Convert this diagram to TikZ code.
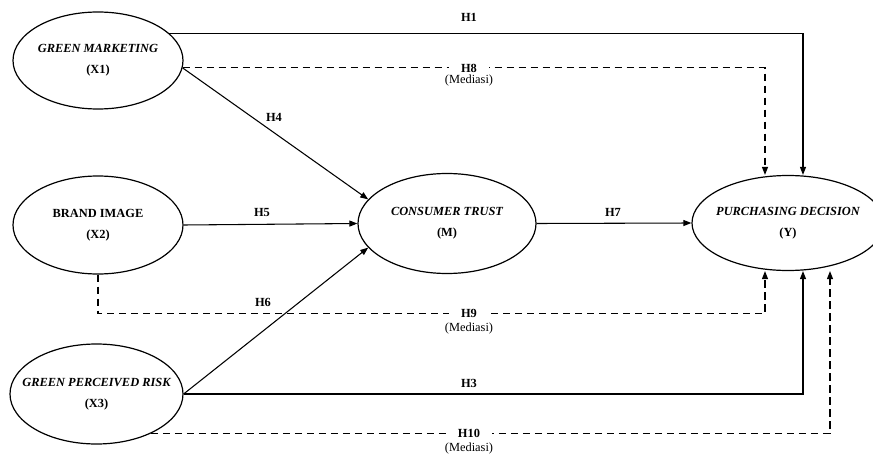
\documentclass[tikz,border=0pt]{standalone}
\usepackage{fontspec}
\setmainfont{Liberation Serif}
\usetikzlibrary{shapes.geometric,arrows.meta,calc}
\begin{document}
\begin{tikzpicture}[x=0.75pt,y=-0.75pt,
  var/.style={ellipse,draw,line width=0.9pt,inner sep=0pt},
  vtxt/.style={align=center,inner sep=0pt,font=\fontsize{9.3}{11}\selectfont\bfseries},
  arr/.style={line width=0.8pt,-{Triangle[length=6pt,width=4.5pt]}},
  dsh/.style={arr,dash pattern=on 5.5pt off 3.5pt},
  lab/.style={font=\fontsize{9.3}{11}\selectfont\bfseries,inner sep=1pt},
  labw/.style={lab,fill=white,inner xsep=9pt,inner ysep=2pt},
  med/.style={font=\fontsize{9.3}{11}\selectfont,inner sep=1pt}]
\useasboundingbox (0,0) rectangle (873,456);
\clip (0,0) rectangle (873,456);
\fill[white] (0,0) rectangle (873,456);

\node[var,minimum width=127.5pt,minimum height=72.75pt] (X1) at (98,60.5) {};
\node[var,minimum width=127.5pt,minimum height=73.5pt] (X2) at (98,225) {};
\node[var,minimum width=129.75pt,minimum height=75pt] (X3) at (96.5,394) {};
\node[var,minimum width=133.5pt,minimum height=75pt] (M) at (447,223.5) {};
\node[var,minimum width=144pt,minimum height=71.25pt] (Y) at (788,223) {};

\node[vtxt] (t1) at (X1) {{\itshape GREEN MARKETING}\\[4.5pt](X1)};
\node[vtxt] (t2) at (X2) {BRAND IMAGE\\[4.5pt](X2)};
\node[vtxt] (t3) at (X3) {{\itshape GREEN PERCEIVED RISK}\\[4.5pt](X3)};
\node[vtxt] (tm) at (M) {{\itshape CONSUMER TRUST}\\[4.5pt](M)};
\node[vtxt] (ty) at (Y) {{\itshape PURCHASING DECISION}\\[4.5pt](Y)};

% direct effects
\draw[arr] (X1.21) -| ($(Y.north)+(15,0)$);
\draw[arr] (X1.-5) -- (M.163);
\draw[arr] (X2.east) -- (M.west);
\draw[arr] (X3.east) -- (M.197);
\draw[arr] (M.east) -- (Y.west);
\draw[arr] (X3.east) -| ($(Y.south)+(15,0)$);

% mediation paths
\draw[dsh] (X1.-5) -| ($(Y.north)+(-23,0)$);
\draw[dsh] (X2.south) -- ++(0,39) -| ($(Y.south)+(-23,0)$);
\draw[dsh] (X3.-36) -| ($(Y.south)+(42,0)$);

% labels
\node[lab] (h1) at (469,17) {H1};
\node[lab] (h4) at (274,117) {H4};
\node[lab] (h5) at (262,212) {H5};
\node[lab] (h6) at (263,302) {H6};
\node[lab] (h7) at (613,212) {H7};
\node[lab] (h3) at (469,383) {H3};
\node[labw] (h8) at (469,68) {H8};
\node[med] (m8) at (469,81) {(Mediasi)};
\node[labw] (h9) at (469,313) {H9};
\node[med] (m9) at (469,329) {(Mediasi)};
\node[labw] (h10) at (469,433) {H10};
\node[med] (m10) at (469,449) {(Mediasi)};
\end{tikzpicture}
\end{document}
